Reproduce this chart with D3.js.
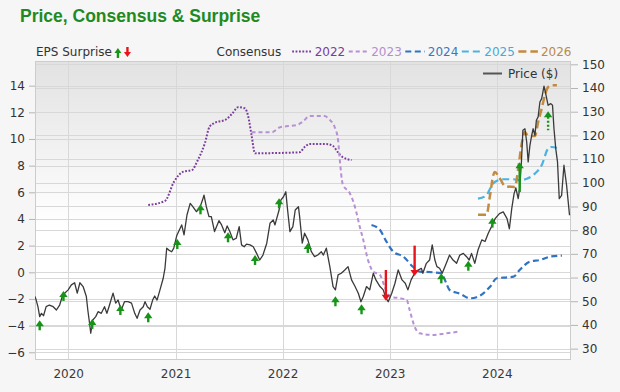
<!DOCTYPE html>
<html><head><meta charset="utf-8">
<script src="https://cdn.jsdelivr.net/npm/d3@7"></script>
<style>
html,body{margin:0;padding:0;background:#f6f6f6;}
svg{display:block;font-family:"DejaVu Sans",Verdana,sans-serif;}
</style>
</head><body>
<svg id="chart" width="620" height="392"></svg>
<script>
// ---------------- DATA ----------------
const chartTitle = "Price, Consensus & Surprise";
const yearTickLabels = ["2020","2021","2022","2023","2024"];
const epsTicks = [-6,-4,-2,0,2,4,6,8,10,12,14];
const priceTicks = [30,40,50,60,70,80,90,100,110,120,130,140,150];

const priceDates = ["2019-09-10","2019-09-14","2019-09-20","2019-09-26","2019-10-02","2019-10-09","2019-10-18","2019-10-29","2019-11-11","2019-11-22","2019-12-03","2019-12-12","2019-12-20",
"2020-01-01","2020-01-12","2020-01-23","2020-02-01","2020-02-10","2020-02-21","2020-03-03","2020-03-08","2020-03-14","2020-03-18","2020-03-25","2020-04-04","2020-04-12","2020-04-23","2020-05-04","2020-05-12","2020-05-21","2020-06-02","2020-06-11","2020-06-19","2020-06-30","2020-07-11","2020-07-23","2020-08-04","2020-08-15","2020-08-23","2020-09-02","2020-09-13","2020-09-19","2020-09-27","2020-10-06","2020-10-15","2020-10-22","2020-10-30","2020-11-09","2020-11-20","2020-11-26","2020-12-02","2020-12-09","2020-12-19","2020-12-26",
"2021-01-05","2021-01-14","2021-01-22","2021-01-30","2021-02-09","2021-02-20","2021-03-01","2021-03-13","2021-03-24","2021-04-03","2021-04-08","2021-04-16","2021-04-25","2021-05-03","2021-05-14","2021-05-29","2021-06-07","2021-06-18","2021-06-26","2021-07-05","2021-07-16","2021-07-27","2021-08-06","2021-08-14","2021-08-23","2021-08-31","2021-09-12","2021-09-23","2021-10-04","2021-10-15","2021-10-26","2021-11-08","2021-11-19","2021-11-30","2021-12-06","2021-12-12","2021-12-20","2021-12-26",
"2022-01-04","2022-01-12","2022-01-18","2022-01-26","2022-02-05","2022-02-13","2022-02-24","2022-02-28","2022-03-09","2022-03-17","2022-03-28","2022-04-09","2022-04-20","2022-05-01","2022-05-13","2022-05-20","2022-05-30","2022-06-11","2022-06-22","2022-06-30","2022-07-09","2022-07-20","2022-08-01","2022-08-12","2022-08-24","2022-09-05","2022-09-16","2022-09-25","2022-10-03","2022-10-14","2022-10-25","2022-11-06","2022-11-15","2022-11-29","2022-12-10","2022-12-19","2022-12-27",
"2023-01-08","2023-01-19","2023-01-30","2023-02-12","2023-02-23","2023-03-04","2023-03-15","2023-03-27","2023-04-08","2023-04-19","2023-04-24","2023-05-06","2023-05-17","2023-05-26","2023-06-04","2023-06-11","2023-06-20","2023-06-29","2023-07-13","2023-07-24","2023-08-05","2023-08-17","2023-08-28","2023-09-09","2023-09-20","2023-09-29","2023-10-07","2023-10-18","2023-10-29","2023-11-11","2023-11-22","2023-12-03","2023-12-14","2023-12-27",
"2024-01-10","2024-01-23","2024-02-05","2024-02-13","2024-02-21","2024-02-29","2024-03-06","2024-03-14","2024-03-19","2024-03-25","2024-03-30","2024-04-06","2024-04-12","2024-04-17","2024-04-23","2024-04-29","2024-05-04","2024-05-10","2024-05-15","2024-05-21","2024-05-27","2024-06-02","2024-06-10","2024-06-17","2024-06-24","2024-07-03","2024-07-09","2024-07-14","2024-07-20","2024-07-26","2024-08-01","2024-08-09","2024-08-17","2024-08-26","2024-09-05"];
const priceValues = [52.0,50.5,47.7,43.5,44.9,43.9,47.7,48.4,47.7,46.3,48.4,52.0,53.4,
54.8,56.9,57.8,53.4,57.8,56.2,52.0,46.3,40.7,36.5,42.1,43.5,45.6,44.9,47.7,44.9,48.4,53.4,49.2,50.5,46.3,49.8,49.8,49.2,44.9,42.8,46.3,47.7,49.8,47.7,46.6,50.5,52.2,50.5,54.8,59.7,63.9,72.4,71.6,70.9,72.4,
77.6,80.1,82.2,78.0,86.4,91.3,89.9,87.8,89.2,92.7,94.8,89.9,85.7,85.7,79.4,84.0,82.2,78.9,81.8,79.4,75.9,76.6,81.5,73.8,73.0,74.1,73.8,73.0,70.3,67.4,69.5,74.5,82.9,84.3,82.2,85.0,88.5,92.7,
94.1,96.2,88.5,79.4,81.5,88.5,89.9,85.7,74.5,78.7,75.9,70.9,68.8,69.5,70.9,69.5,72.4,64.6,56.2,54.8,61.1,61.8,63.2,64.6,59.0,56.2,53.4,49.8,52.0,56.2,54.8,61.8,59.0,56.2,54.8,51.3,49.8,
53.4,57.6,63.2,59.0,57.6,54.8,59.0,61.8,63.2,63.9,61.8,66.0,67.4,73.8,67.4,64.6,63.9,61.8,66.0,69.5,67.4,66.0,69.5,70.2,68.8,67.4,70.2,66.0,71.6,75.9,75.2,78.7,81.5,85.0,
87.0,87.7,84.9,80.6,89.1,95.4,97.8,93.3,97.5,108.8,122.2,122.8,117.2,108.8,115.8,120.0,122.8,120.0,126.4,127.8,134.1,135.5,140.8,136.9,132.7,133.4,132.7,122.8,114.4,108.8,93.3,94.7,107.4,98.9,86.3];

const consensusYears = ["2022","2023","2024","2025","2026"];
const cons2022Dates = ["2020-09-30","2020-11-26","2020-12-27","2021-01-28","2021-02-26","2021-03-18","2021-04-11","2021-04-27","2021-05-14","2021-06-23","2021-07-15","2021-08-02","2021-08-25","2021-09-06","2021-09-17","2021-09-29","2022-02-28","2022-03-17","2022-04-03","2022-05-30","2022-06-22","2022-07-08","2022-07-24","2022-08-24"];
const cons2022Values = [5.05,5.35,6.8,7.55,7.67,8.42,9.68,10.92,11.2,11.48,11.95,12.38,12.3,11.67,10.3,8.93,9.0,9.4,9.62,9.62,9.47,9.02,8.65,8.42];
const cons2023Dates = ["2021-09-17","2021-11-25","2021-12-23","2022-02-19","2022-03-11","2022-04-03","2022-05-24","2022-06-11","2022-06-27","2022-07-09","2022-07-14","2022-07-25","2022-08-18","2022-08-28","2022-09-10","2022-09-21","2022-10-03","2022-10-19","2022-11-06","2022-11-29","2022-12-15","2023-01-02","2023-02-06","2023-02-28","2023-03-10","2023-03-27","2023-04-13","2023-05-27","2023-07-13","2023-08-22"];
const cons2023Values = [10.5,10.5,10.88,11.05,11.3,11.72,11.72,11.43,10.92,9.92,8.67,6.6,5.93,5.42,4.45,3.42,2.42,0.92,0.05,-0.2,-1.08,-1.83,-1.95,-2.08,-2.83,-4.08,-4.58,-4.7,-4.58,-4.46];
const cons2024Dates = ["2022-10-31","2022-11-29","2022-12-21","2023-01-13","2023-02-17","2023-03-21","2023-04-13","2023-05-28","2023-06-26","2023-07-13","2023-07-24","2023-08-28","2023-10-01","2023-10-24","2023-11-16","2023-12-09","2024-01-01","2024-02-05","2024-02-27","2024-03-19","2024-04-23","2024-05-27","2024-06-30","2024-08-10"];
const cons2024Values = [3.55,3.17,2.3,1.55,1.17,0.42,0.05,0.0,-0.08,-0.83,-1.33,-1.6,-1.95,-1.87,-1.58,-1.08,-0.45,-0.38,-0.33,0.17,0.8,0.92,1.17,1.25];
const cons2025Dates = ["2023-10-29","2023-11-27","2023-12-09","2023-12-25","2024-01-23","2024-02-27","2024-03-19","2024-04-12","2024-05-10","2024-06-02","2024-06-24","2024-07-06","2024-07-24"];
const cons2025Values = [5.52,5.77,6.27,6.77,6.98,6.98,6.9,7.02,7.4,8.03,9.27,9.4,9.32];
const cons2026Dates = ["2023-10-29","2023-11-27","2023-12-09","2023-12-20","2023-12-25","2024-01-12","2024-01-29","2024-03-03","2024-03-14","2024-03-25","2024-04-06","2024-04-17","2024-05-10","2024-05-21","2024-06-02","2024-06-13","2024-06-24","2024-07-06","2024-07-24"];
const cons2026Values = [4.32,4.32,5.77,7.27,7.52,7.02,6.47,6.4,7.77,9.52,10.52,10.22,10.22,11.27,12.27,13.28,13.9,14.03,14.03];

const surpriseDates = ["2019-09-26","2019-12-16","2020-03-23","2020-06-27","2020-09-30","2021-01-07","2021-03-27","2021-06-29","2021-09-29","2021-12-20","2022-03-28","2022-06-30","2022-09-27","2022-12-19","2023-03-27","2023-06-26","2023-09-26","2023-12-17","2024-03-19","2024-06-24"];
const surpriseEstimate = [-3.8,-1.6,-3.7,-2.6,-3.2,2.3,4.9,2.8,1.1,5.35,2.0,-2.0,-2.6,0.17,2.0,-0.28,0.67,3.9,6.02,10.65];
const surpriseActual   = [-3.6,-1.4,-3.5,-2.45,-3.0,2.5,5.1,3.0,1.3,5.55,2.2,-1.8,-2.4,-2.13,-0.28,-0.08,0.87,4.1,8.25,12.08];

// ---------------- LAYOUT ----------------
const svg = d3.select("#chart");
const L = 35, R = 571, T = 61, B = 360;
const parse = d3.timeParse("%Y-%m-%d");

const x = d3.scaleTime().domain([parse("2019-09-10"), parse("2024-09-10")]).range([L, R]);
const yEps = d3.scaleLinear().domain([-6.58, 15.85]).range([B, T]);
const yPrice = d3.scaleLinear().domain([25.2, 151.4]).range([B, T]);

const green = "#179417", red = "#e8141c";
const consColors = {"2022":"#7a3d9c","2023":"#b890d4","2024":"#2f73c2","2025":"#4ab3e2","2026":"#c28b40"};
const consText = {"2022":"#7a3d9c","2023":"#b48fcf","2024":"#3a78c0","2025":"#4aa9d6","2026":"#b98a4a"};
const consDash = {"2022":"1.8,1.6","2023":"4,3","2024":"6,3.5","2025":"7,4","2026":"8,4"};
const consWidth = {"2022":2,"2023":2,"2024":2.2,"2025":2.2,"2026":2.5};
const consSeries = {
  "2022": [cons2022Dates, cons2022Values],
  "2023": [cons2023Dates, cons2023Values],
  "2024": [cons2024Dates, cons2024Values],
  "2025": [cons2025Dates, cons2025Values],
  "2026": [cons2026Dates, cons2026Values]
};

// defs
const defs = svg.append("defs");
const grad = defs.append("linearGradient").attr("id","bg").attr("x1",0).attr("y1",0).attr("x2",0).attr("y2",1);
grad.append("stop").attr("offset","0%").attr("stop-color","#e2e2e2");
grad.append("stop").attr("offset","55%").attr("stop-color","#ffffff");
grad.append("stop").attr("offset","100%").attr("stop-color","#ffffff");
defs.append("clipPath").attr("id","clip").append("rect").attr("x",L).attr("y",T).attr("width",R-L).attr("height",B-T);

// title
svg.append("text").attr("x",20).attr("y",22)
  .attr("font-family","'Liberation Sans',Arial,sans-serif").attr("font-weight","bold")
  .attr("font-size",17.5).attr("fill","#1f8a1f").text(chartTitle);

// plot background
svg.append("rect").attr("x",L).attr("y",T).attr("width",R-L).attr("height",B-T).attr("fill","url(#bg)");

// gridlines
const grid = svg.append("g").attr("stroke","#d8d8d8").attr("stroke-width",1);
epsTicks.forEach(v => grid.append("line").attr("x1",L).attr("x2",R).attr("y1",Math.round(yEps(v))+0.5).attr("y2",Math.round(yEps(v))+0.5));
priceTicks.forEach(v => grid.append("line").attr("x1",L).attr("x2",R).attr("y1",Math.round(yPrice(v))+0.5).attr("y2",Math.round(yPrice(v))+0.5));
yearTickLabels.forEach(yr => {
  const xx = Math.round(x(parse(yr+"-01-01")))+0.5;
  grid.append("line").attr("x1",xx).attr("x2",xx).attr("y1",T).attr("y2",B);
});

// frame
svg.append("rect").attr("x",L+0.5).attr("y",T+0.5).attr("width",R-L-1).attr("height",B-T-1)
  .attr("fill","none").attr("stroke","#cccccc");

// axes
const leftAxis = d3.axisLeft(yEps).tickValues(epsTicks).tickSize(6).tickPadding(4).tickFormat(d3.format("d"));
const gL = svg.append("g").attr("transform",`translate(${L},0)`).call(leftAxis);
const rightAxis = d3.axisRight(yPrice).tickValues(priceTicks).tickSize(7).tickPadding(4).tickFormat(d3.format("d"));
const gR = svg.append("g").attr("transform",`translate(${R},0)`).call(rightAxis);
const bottomAxis = d3.axisBottom(x).tickValues(yearTickLabels.map(y => parse(y+"-01-01"))).tickSize(0).tickPadding(9).tickFormat(d3.timeFormat("%Y"));
const gB = svg.append("g").attr("transform",`translate(0,${B})`).call(bottomAxis);
[gL,gR,gB].forEach(g => {
  g.select(".domain").remove();
  g.selectAll(".tick line").attr("stroke","#b5b5b5");
  g.selectAll(".tick text").attr("fill","#333").attr("font-size",12).attr("font-family","'DejaVu Sans',sans-serif");
});
gB.selectAll(".tick text").attr("fill","#3a3a3a");

// consensus lines
const plot = svg.append("g").attr("clip-path","url(#clip)");
consensusYears.forEach(yr => {
  const [ds, vs] = consSeries[yr];
  const pts = ds.map((d,i) => [parse(d), vs[i]]);
  plot.append("path").datum(pts)
    .attr("d", d3.line().x(p => x(p[0])).y(p => yEps(p[1])).curve(d3.curveMonotoneX))
    .attr("fill","none").attr("stroke",consColors[yr]).attr("stroke-width",consWidth[yr])
    .attr("stroke-dasharray",consDash[yr]);
});

// price line
const pricePts = priceDates.map((d,i) => [parse(d), priceValues[i]]);
plot.append("path").datum(pricePts)
  .attr("d", d3.line().x(p => x(p[0])).y(p => yPrice(p[1])))
  .attr("fill","none").attr("stroke","#3a3a3a").attr("stroke-width",1.3).attr("stroke-linejoin","round");

// surprise arrows
function arrow(g, cx, yTip, yTail, color, dotted, headW, headH) {
  const up = yTail > yTip;
  const dir = up ? 1 : -1;
  const minLen = 10;
  if (Math.abs(yTail - yTip) < minLen) yTail = yTip + dir*minLen;
  g.append("line").attr("x1",cx).attr("x2",cx).attr("y1",yTip + dir*headH - dir*0.5).attr("y2",yTail)
    .attr("stroke",color).attr("stroke-width",2.4)
    .attr("stroke-dasharray", dotted ? "2,2" : null);
  g.append("path").attr("d",`M${cx},${yTip} L${cx-headW},${yTip+dir*headH} L${cx+headW},${yTip+dir*headH} Z`).attr("fill",color);
}
const arrowsG = svg.append("g");
surpriseDates.forEach((d,i) => {
  const cx = x(parse(d));
  const good = surpriseActual[i] >= surpriseEstimate[i];
  arrow(arrowsG, cx, yEps(surpriseActual[i]), yEps(surpriseEstimate[i]), good ? green : red, i === surpriseDates.length-1, 4.2, 6);
});

// legend: EPS surprise
const lg = svg.append("g").attr("font-size",12).attr("fill","#333");
const epsLbl = lg.append("text").attr("x",36).attr("y",56).attr("fill","#333").text("EPS Surprise");
const epsEnd = 36 + epsLbl.node().getComputedTextLength();
arrow(lg, epsEnd + 6, 48, 57, green, false, 3.5, 5);
arrow(lg, epsEnd + 15.5, 57, 48, red, false, 3.5, 5);

// legend: consensus
const consLbl = lg.append("text").attr("x",216.5).attr("y",56).attr("fill","#333").text("Consensus");
let cx0 = 216.5 + consLbl.node().getComputedTextLength() + 11;
consensusYears.forEach(yr => {
  lg.append("line").attr("x1",cx0).attr("x2",cx0+19.5).attr("y1",51.5).attr("y2",51.5)
    .attr("stroke",consColors[yr]).attr("stroke-width",consWidth[yr]).attr("stroke-dasharray",consDash[yr]);
  const t = lg.append("text").attr("x",cx0+22.5).attr("y",56).attr("fill",consText[yr]).text(yr);
  cx0 = cx0 + 22.5 + t.node().getComputedTextLength() + 3.5;
});

// legend: price
lg.append("line").attr("x1",483).attr("x2",502).attr("y1",73.5).attr("y2",73.5).attr("stroke","#555").attr("stroke-width",2);
lg.append("text").attr("x",508).attr("y",78).attr("fill","#333").text("Price ($)");
</script>
</body></html>
